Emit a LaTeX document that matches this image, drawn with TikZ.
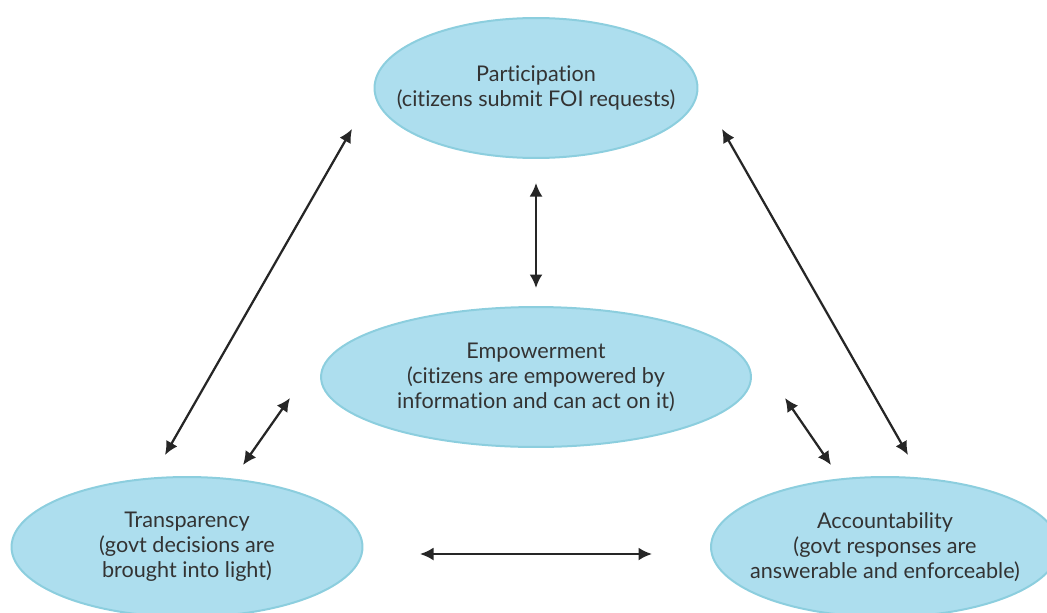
\documentclass[tikz,border=0pt]{standalone}
\usepackage{fontspec}
\setmainfont[Ligatures=NoCommon]{Lato}
\usetikzlibrary{arrows.meta,shapes.geometric}
\definecolor{bubblefill}{HTML}{ADDEEE}
\definecolor{bubbleline}{HTML}{8CCEDE}
\definecolor{bubbletext}{HTML}{333333}

\begin{document}
\begin{tikzpicture}[x=0.02cm, y=-0.02cm]
\tikzset{
    mynode/.style={ellipse, draw=bubbleline, fill=bubblefill, line width=0.04cm, inner xsep=-1cm, inner ysep=0pt, text=bubbletext, align=center, font=\fontsize{12.3}{14.3}\selectfont},
    myarrow/.style={{Latex[length=0.27cm,width=0.26cm]}-{Latex[length=0.27cm,width=0.26cm]}, line width=0.045cm, draw=black!85}
}
\useasboundingbox (0,0) rectangle (1047,612);

\node[mynode, minimum width=6.46cm, minimum height=2.8cm] (participation) at (536,88) {Participation\\(citizens submit FOI requests)};
\node[mynode, minimum width=8.6cm, minimum height=2.8cm] (empowerment) at (536,377) {Empowerment\\(citizens are empowered by\\information and can act on it)};
\node[mynode, minimum width=7.02cm, minimum height=2.8cm] (transparency) at (187,547) {Transparency\\(govt decisions are\\brought into light)};
\node[mynode, minimum width=6.96cm, minimum height=2.8cm] (accountability) at (885,547) {Accountability\\(govt responses are\\answerable and enforceable)};

% arrow ends sit in the gaps between the bubbles
\coordinate (partleft) at (352,129);
\coordinate (transtop) at (165,455);
\coordinate (partright) at (722,129);
\coordinate (acctop) at (908,455);
\coordinate (partbottom) at (536,183);
\coordinate (empowtop) at (536,288);
\coordinate (empowleft) at (290,398);
\coordinate (transright) at (243,465);
\coordinate (empowright) at (785,398);
\coordinate (accleft) at (831,465);
\coordinate (transend) at (420,554);
\coordinate (accstart) at (652,554);

\draw[myarrow] (partleft) -- (transtop);
\draw[myarrow] (partright) -- (acctop);
\draw[myarrow] (partbottom) -- (empowtop);
\draw[myarrow] (empowleft) -- (transright);
\draw[myarrow] (empowright) -- (accleft);
\draw[myarrow] (transend) -- (accstart);

\end{tikzpicture}
\end{document}
